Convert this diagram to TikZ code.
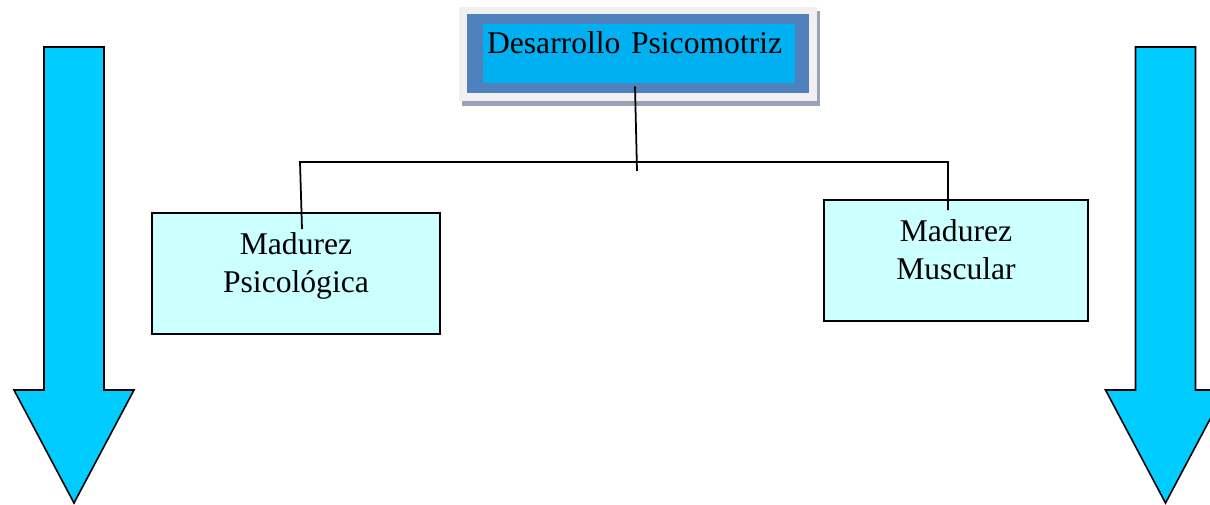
\documentclass[tikz,border=0pt]{standalone}
\usepackage{fontspec}
\setmainfont{Liberation Serif}
\definecolor{shadowgray}{HTML}{98A3B4}
\definecolor{framegray}{HTML}{F0F0F2}
\definecolor{frameblue}{HTML}{4F81BD}
\definecolor{titlecyan}{HTML}{00B0F0}
\definecolor{boxcyan}{HTML}{CCFFFF}
\definecolor{arrowcyan}{HTML}{00CCFF}
\tikzset{
  conn/.style={line width=1pt},
  matbox/.style={draw, line width=0.9pt, fill=boxcyan, align=center, font=\fontsize{18}{22}\selectfont,
    inner sep=0pt, text height=0.82cm, text depth=1.6cm},
}
\begin{document}
\begin{tikzpicture}[x=0.02cm,y=-0.02cm]
\useasboundingbox (0,0) rectangle (1210,504);

% arrows at the sides
\foreach \c in {74,1165.5} {
\draw[line width=0.9pt, fill=arrowcyan] (\c-30,47) -- (\c+30,47) -- (\c+30,390) -- (\c+60,390)
  -- (\c,503) -- (\c-60,390) -- (\c-30,390) -- cycle;
}

% title frame
\fill[shadowgray] (462,11) rectangle (820,106);
\fill[framegray] (459,7) rectangle (817,101);
\fill[frameblue] (467,14) rectangle (809,93);
\node[fill=titlecyan, text width=6.08cm, align=left, inner xsep=0.08cm, inner ysep=0pt,
  text height=0.58cm, text depth=0.6cm, font=\fontsize{18}{21}\selectfont] (titulo) at (639,53.5) {Desarrollo Psicomotriz};

\node[matbox, text width=5.76cm] (psico) at (296,273.5) {Madurez\\Psicológica};
\node[matbox, text width=5.28cm] (muscular) at (956,260.5) {Madurez\\Muscular};

\coordinate (hub) at (637,171);
\coordinate (jl) at (300,162);
\coordinate (jr) at (948,162);
\coordinate (tl) at (302,229);
\coordinate (tr) at (948,210);
\draw[conn] (titulo.south) ++(-4,3) -- (hub);
\draw[conn] (tl) -- (jl) -- (jr) -- (tr);
\end{tikzpicture}
\end{document}
